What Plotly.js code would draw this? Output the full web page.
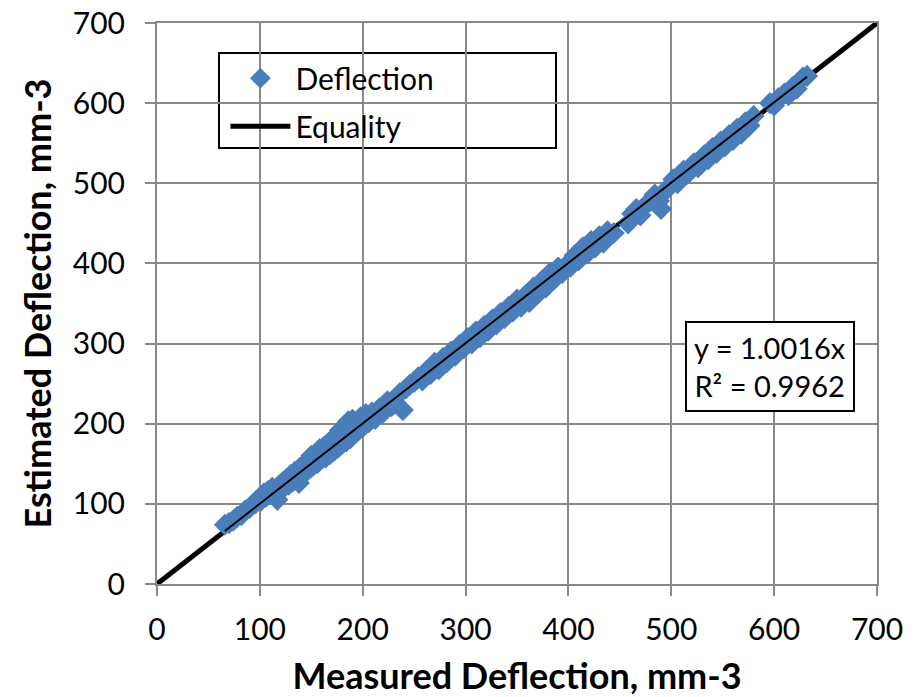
<!DOCTYPE html>
<html>
<head>
<meta charset="utf-8">
<script src="https://cdn.plot.ly/plotly-3.0.1.min.js"></script>
<style>html,body{margin:0;padding:0;background:#fff;}#chart{width:922px;height:697px;}</style>
</head>
<body>
<div id="chart"></div>
<script>
// Measured vs estimated deflection
const measured = [66,70,74,78,82,86,90,93,96,99,101,104,106,108,110,112,114,117,118,120,122,124,126,128,130,132,134,136,138,139,141,143,145,147,149,150,152,154,156,158,160,162,164,166,168,170,172,174,176,178,180,182,184,186,188,190,192,194,196,198,200,203,206,209,212,216,220,224,228,232,236,239,242,246,250,254,258,262,266,270,274,278,282,286,290,294,298,302,306,310,314,318,322,326,330,334,338,342,346,350,354,358,362,366,370,374,378,382,386,390,394,398,402,406,410,414,418,422,426,430,434,438,444,458,462,466,470,476,480,484,488,490,494,498,502,506,512,516,522,526,532,536,540,544,548,552,556,560,564,568,572,576,580,596,600,604,610,614,618,622,628,632];
const estimated = [74,76,79,84,86,92,95,99,101,107,104,113,109,116,112,120,110,105,122,118,127,121,131,124,136,128,140,131,126,145,138,149,140,154,145,160,148,162,151,168,156,171,158,175,162,180,166,184,170,192,175,196,178,203,182,205,188,200,192,208,196,212,202,214,206,219,214,228,222,226,238,217,244,249,252,258,254,266,262,276,268,282,277,290,285,298,294,307,300,315,308,322,316,330,324,338,332,346,340,355,346,360,352,370,362,378,370,388,380,395,388,398,396,410,404,420,412,428,420,434,426,440,438,450,462,468,460,474,478,486,478,468,490,496,505,500,516,512,525,520,535,530,544,538,552,546,560,554,568,562,576,572,584,600,597,606,612,610,620,618,632,634];
const equalityX = [0, 700];
const trendX = [66, 632];
const trendSlope = 1.0016;
const xTicks = [0,100,200,300,400,500,600,700];
const yTicks = [0,100,200,300,400,500,600,700];
const seriesNames = ['Deflection', 'Equality'];
const trendLabel = 'y = 1.0016x<br>R² = 0.9962';

const FONT = 'Lato, "Open Sans", sans-serif';
const GRID = '#898989';

const traces = [
  {
    x: equalityX, y: equalityX, mode: 'lines', name: seriesNames[1],
    line: {color: '#000000', width: 5}, legendrank: 2, legendgroup: 'b'
  },
  {
    x: measured, y: estimated, mode: 'markers', name: seriesNames[0],
    marker: {symbol: 'diamond', size: 17, color: '#4A7EBB'},
    legendrank: 1, legendgroup: 'a'
  },
  {
    x: trendX, y: trendX.map(v => v * trendSlope), mode: 'lines',
    line: {color: '#000000', width: 2}, showlegend: false, hoverinfo: 'skip'
  }
];

const axisCommon = {
  range: [0, 700], tickvals: xTicks, showgrid: true, gridcolor: GRID, gridwidth: 2,
  showline: true, linecolor: GRID, linewidth: 2, mirror: true,
  ticks: 'outside', ticklen: 10, tickwidth: 2, tickcolor: GRID,
  zeroline: false, tickfont: {family: FONT, size: 30, color: '#000'}
};

const layout = {
  width: 922, height: 697,
  margin: {l: 157, r: 45, t: 23, b: 113},
  paper_bgcolor: '#fff', plot_bgcolor: '#fff',
  showlegend: true,
  xaxis: Object.assign({}, axisCommon, {
    ticklabelstandoff: 8,
    title: {text: 'Measured Deflection, mm-3', font: {family: FONT, size: 36, color: '#000', weight: 'bold'}, standoff: 20}
  }),
  yaxis: Object.assign({}, axisCommon, {
    tickvals: yTicks, ticklabelstandoff: 14,
    title: {text: 'Estimated Deflection, mm-3', font: {family: FONT, size: 36, color: '#000', weight: 'bold'}, standoff: 10}
  }),
  legend: {
    x: 0.095, y: 0.948, xanchor: 'left', yanchor: 'top',
    bgcolor: 'rgba(0,0,0,0)', borderwidth: 0,
    font: {family: FONT, size: 30, color: '#000'},
    traceorder: 'grouped', tracegroupgap: 6, itemwidth: 60
  },
  shapes: [
    {type: 'rect', xref: 'paper', yref: 'paper', x0: (219-157)/720, x1: (556-157)/720, y0: (584-148)/561, y1: (584-53)/561,
     line: {color: '#000', width: 2}, fillcolor: '#fff', layer: 'below'}
  ],
  annotations: [
    {xref: 'paper', yref: 'paper', x: 0.852, y: 0.3877, xanchor: 'center', yanchor: 'middle',
     text: trendLabel, showarrow: false, align: 'center',
     font: {family: FONT, size: 29, color: '#000'},
     bgcolor: '#fff', bordercolor: '#000', borderwidth: 2, borderpad: 7}
  ]
};

Plotly.newPlot('chart', traces, layout, {displayModeBar: false, staticPlot: true});
</script>
</body>
</html>
